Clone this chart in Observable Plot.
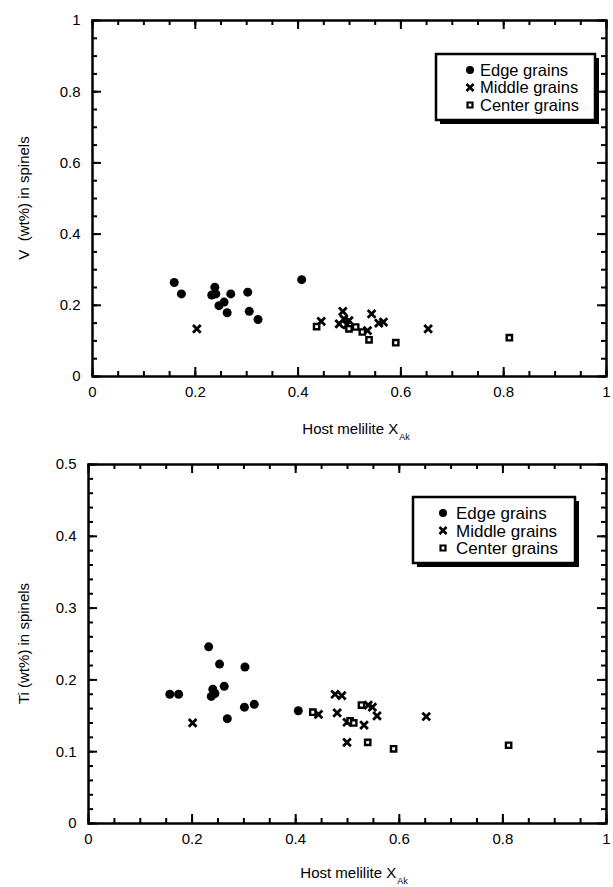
<!DOCTYPE html>
<html><head><meta charset="utf-8">
<script src="https://cdn.jsdelivr.net/npm/d3@7"></script>
<script src="https://cdn.jsdelivr.net/npm/@observablehq/plot@0.6"></script>
<style>
body{margin:0;background:#fff;}
#c{width:613px;}
svg{display:block;}
</style></head><body><div id="c"></div>
<script>
// ---- data (panel A: V wt%, panel B: Ti wt%) ----
const vEdge = [[0.159,0.264],[0.173,0.232],[0.238,0.251],[0.232,0.229],[0.240,0.232],[0.269,0.232],[0.256,0.209],[0.246,0.199],[0.262,0.179],[0.302,0.237],[0.305,0.183],[0.322,0.160],[0.407,0.272]];
const vMiddle = [[0.203,0.134],[0.445,0.155],[0.487,0.183],[0.480,0.148],[0.489,0.162],[0.499,0.157],[0.495,0.145],[0.535,0.129],[0.543,0.176],[0.557,0.150],[0.566,0.153],[0.653,0.134]];
const vCenter = [[0.436,0.140],[0.499,0.134],[0.512,0.139],[0.525,0.125],[0.538,0.103],[0.590,0.095],[0.811,0.109]];
const tiEdge = [[0.157,0.180],[0.174,0.180],[0.232,0.246],[0.253,0.222],[0.302,0.218],[0.240,0.187],[0.244,0.181],[0.237,0.177],[0.262,0.191],[0.268,0.146],[0.301,0.162],[0.320,0.166],[0.405,0.157]];
const tiMiddle = [[0.201,0.140],[0.444,0.152],[0.476,0.180],[0.489,0.178],[0.480,0.154],[0.499,0.141],[0.499,0.113],[0.532,0.137],[0.540,0.165],[0.548,0.162],[0.557,0.150],[0.652,0.149]];
const tiCenter = [[0.433,0.155],[0.505,0.143],[0.512,0.140],[0.527,0.165],[0.539,0.113],[0.589,0.104],[0.811,0.109]];
const seriesNames = ["Edge grains","Middle grains","Center grains"];
const xTicks = [0,0.2,0.4,0.6,0.8,1];
const vTicks = [0,0.2,0.4,0.6,0.8,1];
const tiTicks = [0,0.1,0.2,0.3,0.4,0.5];
const xTitle = "Host melilite X";
const xTitleSub = "Ak";
const vTitle = "V  (wt%) in spinels";
const tiTitle = "Ti (wt%) in spinels";

const FONT = "'Liberation Sans', Arial, Helvetica, sans-serif";
const W = 613;

function panel(o){
  const pw = W - o.ml - o.mr, ph = o.height - o.mt - o.mb;
  const kx = 1/pw, ky = o.yMax/ph;
  const xMinor = d3.range(0, 1.0001, 0.05);
  const yMinor = d3.range(0, o.yMax + 1e-9, o.yMinorStep);
  const tw = 2;
  const marks = [
    Plot.ruleX(xMinor, {x: d=>d, y1: 0, y2: 5*ky, stroke:"black", strokeWidth: tw}),
    Plot.ruleX(xMinor, {x: d=>d, y1: o.yMax, y2: o.yMax-5*ky, stroke:"black", strokeWidth: tw}),
    Plot.ruleX(xTicks, {x: d=>d, y1: 0, y2: 9*ky, stroke:"black", strokeWidth: tw}),
    Plot.ruleX(xTicks, {x: d=>d, y1: o.yMax, y2: o.yMax-9*ky, stroke:"black", strokeWidth: tw}),
    Plot.ruleY(yMinor, {y: d=>d, x1: 0, x2: 5*kx, stroke:"black", strokeWidth: tw}),
    Plot.ruleY(yMinor, {y: d=>d, x1: 1, x2: 1-5*kx, stroke:"black", strokeWidth: tw}),
    Plot.ruleY(o.yTicks, {y: d=>d, x1: 0, x2: 9*kx, stroke:"black", strokeWidth: tw}),
    Plot.ruleY(o.yTicks, {y: d=>d, x1: 1, x2: 1-9*kx, stroke:"black", strokeWidth: tw}),
    Plot.frame({stroke:"black", strokeWidth: 2.5}),
    Plot.dot(o.edge, {x: d=>d[0], y: d=>d[1], r: 4.5, fill:"black", symbol:"circle"}),
    Plot.dot(o.middle, {x: d=>d[0], y: d=>d[1], r: 3.6, stroke:"black", strokeWidth: 2.8, symbol:"times"}),
    Plot.dot(o.center, {x: d=>d[0], y: d=>d[1], r: 3, fill:"white", stroke:"black", strokeWidth: 2.4, symbol:"square"})
  ];
  const svg = Plot.plot({
    width: W, height: o.height,
    marginTop: o.mt, marginBottom: o.mb, marginLeft: o.ml, marginRight: o.mr,
    x: {domain:[0,1], ticks: xTicks, tickSize: 0, tickPadding: 10, tickFormat: d=>String(d), label: null},
    y: {domain:[0,o.yMax], ticks: o.yTicks, tickSize: 0, tickPadding: 12, tickFormat: d=>String(d), label: null},
    style: {fontFamily: FONT, fontSize: "15px", color: "black", background: "white", overflow: "visible"},
    marks
  });
  const s = d3.select(svg);
  // y title
  const cy = o.mt + ph/2;
  s.append("text").attr("transform", `translate(29,${cy}) rotate(-90)`)
    .attr("text-anchor","middle").attr("font-family",FONT).attr("font-size",15).attr("fill","black")
    .text(o.yTitle);
  // x title with subscript (main part roughly centred on the frame)
  const cx = o.ml + pw/2;
  const t = s.append("text").attr("x", cx + 7).attr("y", o.height - o.mb + o.xTitleDy)
    .attr("text-anchor","middle").attr("font-family",FONT).attr("font-size",15).attr("fill","black");
  t.append("tspan").text(xTitle);
  t.append("tspan").attr("font-size",9).attr("dy",6).attr("dx",1).text(xTitleSub);
  // legend
  const L = o.legend;
  const g = s.append("g").attr("text-anchor","start");
  g.append("rect").attr("x",L.x+4).attr("y",L.y+4).attr("width",L.w).attr("height",L.h).attr("fill","black");
  g.append("rect").attr("x",L.x).attr("y",L.y).attr("width",L.w).attr("height",L.h).attr("fill","white").attr("stroke","black").attr("stroke-width",2.5);
  const syms = [
    {type:d3.symbolCircle, r:4, fill:"black", stroke:"none", sw:0},
    {type:d3.symbolTimes, r:3.3, fill:"none", stroke:"black", sw:2.6},
    {type:d3.symbolSquare, r:2.8, fill:"white", stroke:"black", sw:2.2}
  ];
  seriesNames.forEach((name,i)=>{
    const yy = L.y + L.row0 + i*L.dy;
    const sm = syms[i];
    g.append("path").attr("transform",`translate(${L.mx},${yy})`)
      .attr("d", d3.symbol().type(sm.type).size(Math.PI*sm.r*sm.r)())
      .attr("fill", sm.fill).attr("stroke", sm.stroke).attr("stroke-width", sm.sw);
    g.append("text").attr("x", L.tx).attr("y", yy).attr("dy","0.36em").attr("text-anchor","start")
      .attr("font-family",FONT).attr("font-size",L.fs).attr("fill","black").text(name);
  });
  if (o.tag){
    s.append("text").attr("x", o.tag.x).attr("y", o.tag.y).attr("font-family",FONT).attr("text-anchor","start")
      .attr("font-weight","bold").attr("font-size",17).attr("fill","black").text(o.tag.text);
  }
  return svg;
}

const c = document.getElementById("c");
c.appendChild(panel({
  height: 450, mt: 20, mb: 74, ml: 92, mr: 7, yMax: 1, yTicks: vTicks, yMinorStep: 0.05,
  yTitle: vTitle, xTitleDy: 58,
  edge: vEdge, middle: vMiddle, center: vCenter,
  legend: {x: 436, y: 54, w: 159, h: 66, row0: 16, dy: 17.5, mx: 470, tx: 480, fs: 16.5}
}));
c.appendChild(panel({
  height: 437, mt: 14, mb: 64, ml: 88, mr: 7, yMax: 0.5, yTicks: tiTicks, yMinorStep: 0.02,
  yTitle: tiTitle, xTitleDy: 55,
  edge: tiEdge, middle: tiMiddle, center: tiCenter,
  legend: {x: 413, y: 47, w: 162, h: 66, row0: 16, dy: 17.5, mx: 443, tx: 456, fs: 17}
}));
</script></body></html>
